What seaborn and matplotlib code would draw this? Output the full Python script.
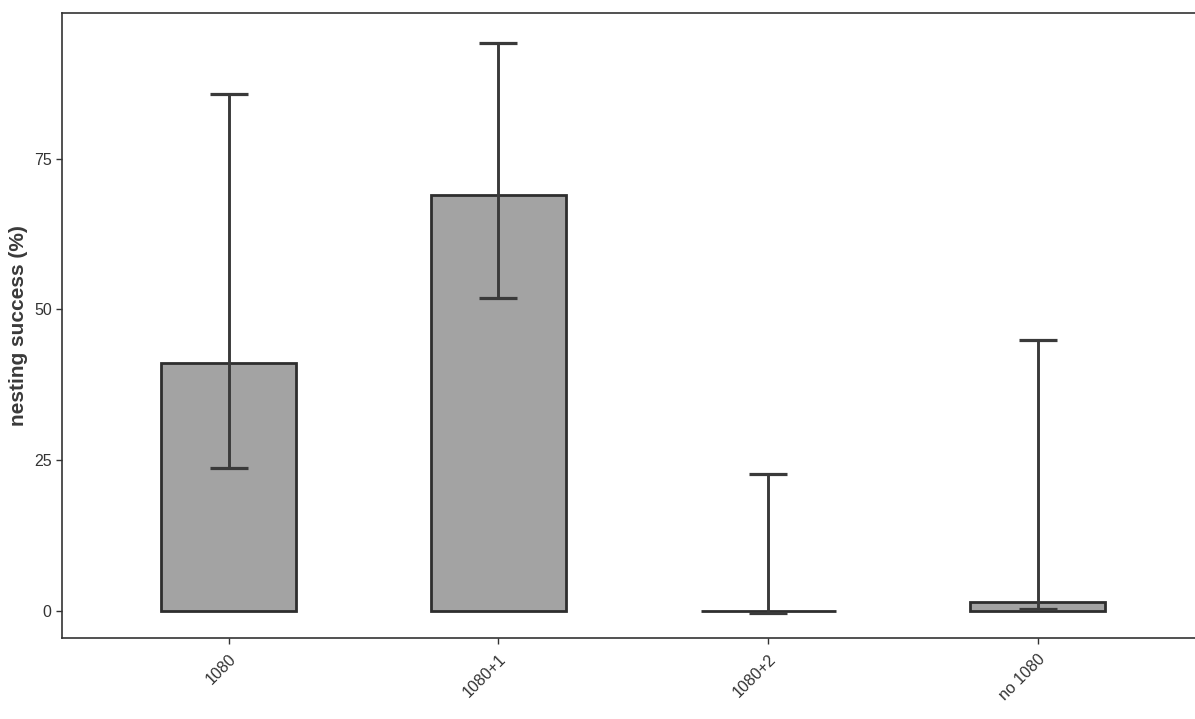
import numpy as np
import pandas as pd
import matplotlib
matplotlib.use('Agg')
import matplotlib.pyplot as plt
import seaborn as sns


# data

categories = ['1080', '1080+1', '1080+2', 'no 1080']
success = [41.1, 69.0, 0.0, 1.4]
ci_low = [23.7, 51.9, -0.4, 0.3]
ci_high = [85.7, 94.2, 22.7, 45.0]

df = pd.DataFrame({'treatment': categories, 'success': success})


# plot

sns.set_style('white')
plt.rcParams['font.family'] = ['Liberation Sans', 'DejaVu Sans']

fig = plt.figure(figsize=(11.95, 7.19), dpi=100)
ax = fig.add_axes([0.052, 0.113, 0.952, 0.869])

sns.barplot(data=df, x='treatment', y='success', color='#a3a3a3',
            edgecolor='#2e2e2e', linewidth=2.0, width=0.5, errorbar=None,
            saturation=1, ax=ax)

pos = np.arange(len(categories))
yerr = [np.array(success) - np.array(ci_low), np.array(ci_high) - np.array(success)]
ax.errorbar(pos, success, yerr=yerr, fmt='none', ecolor='#3a3a3a',
            elinewidth=2.1, capsize=13.5, capthick=2.3)

ax.set_xlim(-0.617, 3.6)
ax.set_ylim(-4.5, 99.2)
ax.set_yticks([0, 25, 50, 75])
ax.set_xlabel('')
ax.set_ylabel('nesting success (%)', fontsize=15, color='#3a3a3a',
              fontweight='bold', labelpad=4)

ax.tick_params(axis='both', direction='out', length=4, width=1,
               color='#333333', labelcolor='#333333', labelsize=11.5,
               bottom=True, left=True)
ax.tick_params(axis='x', pad=6)
plt.setp(ax.get_xticklabels(), rotation=45, ha='right', rotation_mode='anchor')

for s in ax.spines.values():
    s.set_color('#333333')
    s.set_linewidth(1.2)

fig.savefig('out.png', dpi=100)
